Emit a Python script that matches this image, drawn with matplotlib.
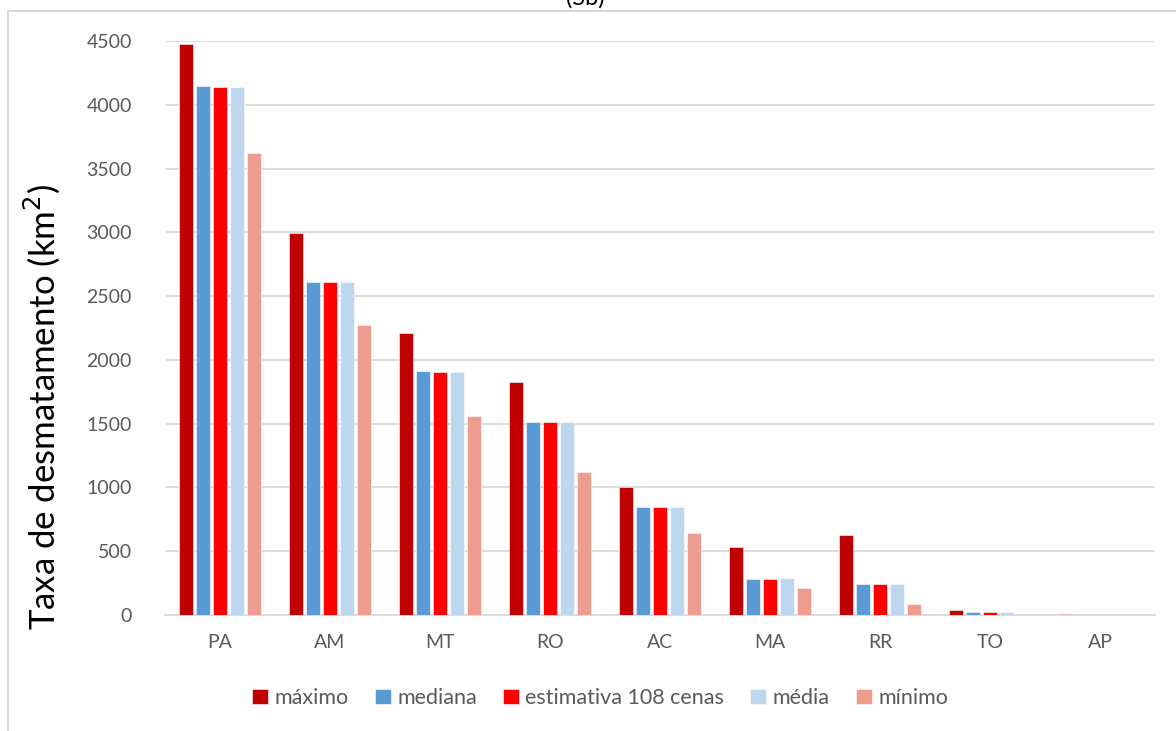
import matplotlib.pyplot as plt
import numpy as np
from matplotlib.patches import Rectangle

# Estados e taxas de desmatamento (km2)
estados = ['PA', 'AM', 'MT', 'RO', 'AC', 'MA', 'RR', 'TO', 'AP']
maximo = [4475, 2995, 2210, 1825, 1005, 530, 625, 40, 4]
mediana = [4145, 2610, 1913, 1513, 846, 283, 242, 25, 3]
estimativa = [4140, 2608, 1906, 1511, 845, 283, 241, 25, 3]
media = [4138, 2610, 1903, 1510, 845, 290, 243, 25, 3]
minimo = [3625, 2270, 1560, 1121, 646, 215, 90, 0, 0]

series = [maximo, mediana, estimativa, media, minimo]
nomes = ['máximo', 'mediana', 'estimativa 108 cenas', 'média', 'mínimo']
cores = ['#C00000', '#5B9BD5', '#FF0000', '#BDD7EE', '#EE9C8F']

plt.rcParams['font.family'] = ['Lato', 'DejaVu Sans']
cinza = '#595959'

fig = plt.figure(figsize=(11.76, 7.31), dpi=100)
ax = fig.add_axes([165 / 1176, 1 - 615 / 731, 990 / 1176, 574 / 731])

x = np.arange(len(estados))
passo = 0.1545
largura = 0.127
for i, (vals, nome, cor) in enumerate(zip(series, nomes, cores)):
    ax.bar(x + (i - 2) * passo, vals, largura, color=cor, label=nome,
           edgecolor='white', linewidth=0.4, zorder=3)

ax.set_xlim(-0.5, len(estados) - 0.5)
ax.set_ylim(0, 4500)
ax.set_yticks(np.arange(0, 4501, 500))
ax.set_xticks(x)
ax.set_xticklabels(estados)
ax.yaxis.grid(True, color='#D9D9D9', linewidth=1.3, zorder=0)
ax.tick_params(axis='both', length=0, labelsize=14, labelcolor=cinza)
ax.tick_params(axis='x', pad=14)
ax.tick_params(axis='y', pad=24)
for lado in ['top', 'right', 'left']:
    ax.spines[lado].set_visible(False)
ax.spines['bottom'].set_color('#D9D9D9')
ax.spines['bottom'].set_linewidth(1.3)

# rotulo do eixo y, mais abaixo que o centro do eixo como no original
fig.text(42 / 1176, 1 - 407 / 731, 'Taxa de desmatamento (km$^2$)', rotation=90,
         ha='center', va='center', fontsize=25, color='black')

ax.legend(loc='center', bbox_to_anchor=(600 / 1176, 1 - 698 / 731),
          bbox_transform=fig.transFigure, ncol=5, frameon=False, fontsize=15.5,
          handlelength=0.75, handleheight=0.75, handletextpad=0.3, columnspacing=1.2,
          labelcolor=cinza)

# moldura do grafico
fig.patches.append(Rectangle((8 / 1176, -0.1), 1.2, 1 - 11 / 731 + 0.1,
                             transform=fig.transFigure, fill=False,
                             edgecolor='#D9D9D9', linewidth=1.5))

fig.text(585 / 1176, 1 - 5 / 731, '(Sb)', ha='center', va='baseline', fontsize=17)

fig.savefig('out.png', dpi=100)
